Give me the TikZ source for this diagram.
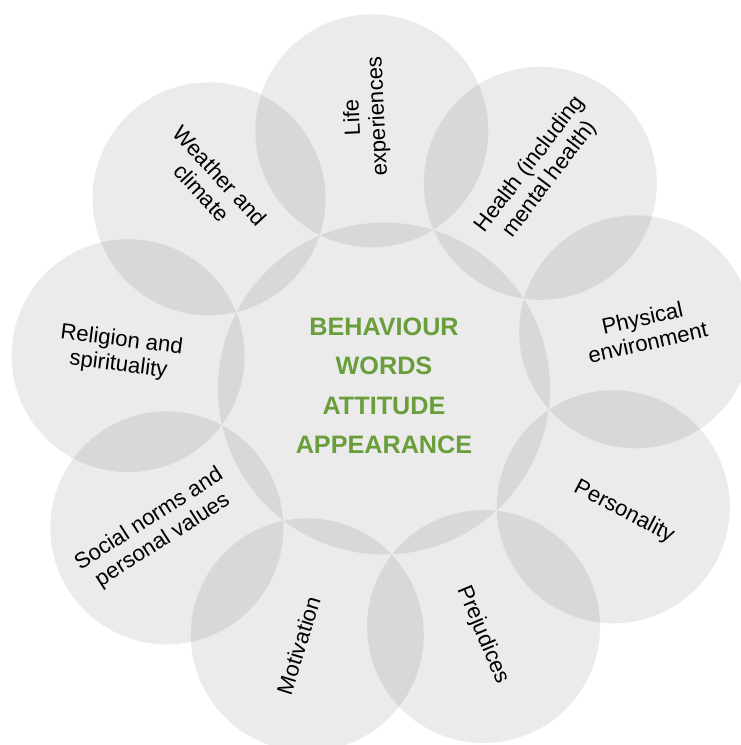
\documentclass[tikz,border=0pt]{standalone}
\usepackage{fontspec}
\setmainfont{Liberation Sans}
\definecolor{leafgreen}{HTML}{6A9E3C}
\begin{document}
\begin{tikzpicture}[x=0.75pt,y=-0.75pt,
  petal/.style={circle,inner sep=0pt,minimum size=174.75pt,fill=black,fill opacity=0.08},
  hub/.style={circle,inner sep=0pt,minimum size=249pt,fill=black,fill opacity=0.08},
  petallabel/.style={align=center,inner sep=0pt,text=black,font=\fontsize{16.6}{18.75}\selectfont},
  hubtext/.style={align=center,inner sep=0pt,text=leafgreen,font=\bfseries\fontsize{18.9}{29.6}\selectfont}]
\fill[white] (0,0) rectangle (741,745);
\path[use as bounding box] (0,0) rectangle (741,745);
% circles
\node[hub] (c) at (384,388.5) {};
\node[petal] (o0) at (371.8,130.8) {};
\node[petal] (o1) at (540.3,183.3) {};
\node[petal] (o2) at (635.7,331.8) {};
\node[petal] (o3) at (613.3,506.8) {};
\node[petal] (o4) at (483.6,626.5) {};
\node[petal] (o5) at (307.3,634.8) {};
\node[petal] (o6) at (166.9,527.9) {};
\node[petal] (o7) at (128.1,355.7) {};
\node[petal] (o8) at (209.0,198.9) {};
% labels
\node[petallabel,rotate=92.7] (l0) at (366,117) {Life\\experiences};
\node[petallabel,rotate=52.7] (l1) at (540,172) {Health (including\\mental health)};
\node[petallabel,rotate=12.7] (l2) at (645,330) {Physical\\environment};
\node[petallabel,rotate=-27.3] (l3) at (624,512) {Personality};
\node[petallabel,rotate=-67.3] (l4) at (483,635) {Prejudices};
\node[petallabel,rotate=72.7] (l5) at (298.5,645.5) {Motivation};
\node[petallabel,rotate=32.7] (l6) at (156,530) {Social norms and\\personal values};
\node[petallabel,rotate=-7.3] (l7) at (120,353) {Religion and\\spirituality};
\node[petallabel,rotate=-47.3] (l8) at (211,184) {Weather and\\climate};
% centre text
\node[hubtext] (t) at (384,386) {BEHAVIOUR\\WORDS\\ATTITUDE\\APPEARANCE};
\end{tikzpicture}
\end{document}
